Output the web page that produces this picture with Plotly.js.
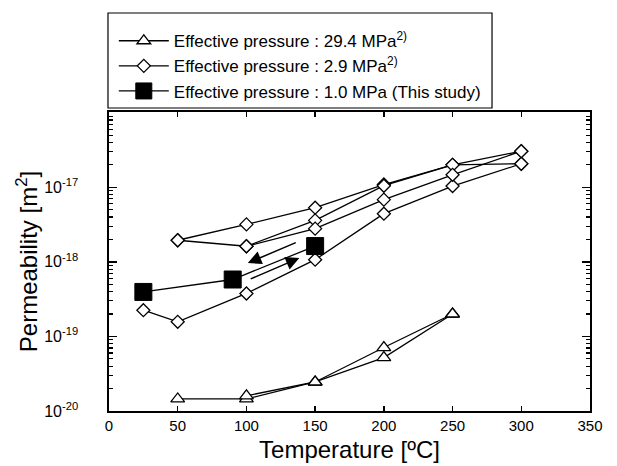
<!DOCTYPE html>
<html>
<head>
<meta charset="utf-8">
<script src="https://cdn.plot.ly/plotly-3.0.1.min.js"></script>
<style>html,body{margin:0;padding:0;background:#fff;}#chart{width:617px;height:466px;}</style>
</head>
<body>
<div id="chart"></div>
<script>
// 29.4 MPa (triangles) – heating and cooling paths
const tri1T = [50, 100, 150, 200, 250];
const tri1K = [1.45e-20, 1.45e-20, 2.45e-20, 5.2e-20, 2.0e-19];
const tri2T = [250, 200, 150, 100];
const tri2K = [2.0e-19, 7.1e-20, 2.45e-20, 1.6e-20];

// 2.9 MPa (diamonds) – several cycles
const dia1T = [25, 50, 100, 150, 200, 250, 300];
const dia1K = [2.25e-19, 1.57e-19, 3.77e-19, 1.07e-18, 4.43e-18, 1.04e-17, 2.07e-17];
const dia2T = [50, 100, 150, 200, 250, 300];
const dia2K = [1.95e-18, 3.18e-18, 5.33e-18, 1.09e-17, 2.0e-17, 3.05e-17];
const dia3T = [50, 100, 150, 200, 250, 300];
const dia3K = [1.95e-18, 1.62e-18, 3.6e-18, 1.05e-17, 2.0e-17, 2.07e-17];
const dia4T = [100, 150, 200, 250, 300];
const dia4K = [1.62e-18, 2.79e-18, 6.83e-18, 1.47e-17, 3.05e-17];

// 1.0 MPa (squares, this study)
const sqT = [25, 90, 150];
const sqK = [3.95e-19, 5.8e-19, 1.63e-18];

const xTicks = [0, 50, 100, 150, 200, 250, 300, 350];
const yTickVals = [1e-20, 1e-19, 1e-18, 1e-17, 1e-16];
const yTickText = ['10<sup>-20</sup>', '10<sup>-19</sup>', '10<sup>-18</sup>', '10<sup>-17</sup>', ''];
const yDecades = [1e-20, 1e-19, 1e-18, 1e-17];
const yMinorMult = [2, 3, 4, 5, 6, 7, 8, 9];

const nameTri = 'Effective pressure : 29.4 MPa<sup>2)</sup>';
const nameDia = 'Effective pressure : 2.9 MPa<sup>2)</sup>';
const nameSq = 'Effective pressure : 1.0 MPa (This study)';

const yMinorVals = [];
yDecades.forEach(d => yMinorMult.forEach(m => yMinorVals.push(d * m)));

const lineStyle = {color: '#000', width: 1.3};
const triMarker = {symbol: 'triangle-up', size: 12, color: '#fff', line: {color: '#000', width: 1.3}};
const diaMarker = {symbol: 'diamond', size: 10, color: '#fff', line: {color: '#000', width: 1.3}};
const sqMarker = {symbol: 'square', size: 17, color: '#000', line: {color: '#000', width: 1}};

const traces = [
  {x: tri1T, y: tri1K, mode: 'lines+markers', name: nameTri, line: lineStyle, marker: triMarker, legendgroup: 'a'},
  {x: tri2T, y: tri2K, mode: 'lines+markers', name: nameTri, line: lineStyle, marker: triMarker, legendgroup: 'a', showlegend: false},
  {x: dia1T, y: dia1K, mode: 'lines+markers', name: nameDia, line: lineStyle, marker: diaMarker, legendgroup: 'b'},
  {x: dia2T, y: dia2K, mode: 'lines+markers', name: nameDia, line: lineStyle, marker: diaMarker, legendgroup: 'b', showlegend: false},
  {x: dia3T, y: dia3K, mode: 'lines+markers', name: nameDia, line: lineStyle, marker: diaMarker, legendgroup: 'b', showlegend: false},
  {x: dia4T, y: dia4K, mode: 'lines+markers', name: nameDia, line: lineStyle, marker: diaMarker, legendgroup: 'b', showlegend: false},
  {x: sqT, y: sqK, mode: 'lines+markers', name: nameSq, line: lineStyle, marker: sqMarker, legendgroup: 'c'},
  // invisible carrier trace for the minor-tick axis
  {x: [0], y: [1e-20], yaxis: 'y2', mode: 'markers', marker: {opacity: 0}, showlegend: false, hoverinfo: 'skip'}
];

const font = {family: 'Liberation Sans, Arial, sans-serif', color: '#000'};

const layout = {
  width: 617, height: 466,
  margin: {l: 109, r: 27, t: 112, b: 55},
  paper_bgcolor: '#fff', plot_bgcolor: '#fff',
  font: font,
  showlegend: true,
  legend: {
    x: 0.01, y: 1.297, xanchor: 'left', yanchor: 'top',
    bgcolor: 'rgba(0,0,0,0)', borderwidth: 0,
    font: {family: font.family, size: 17, color: '#000'},
    traceorder: 'normal', itemwidth: 50, tracegroupgap: 0
  },
  xaxis: {
    range: [0, 350], tickvals: xTicks, ticktext: xTicks.map(String),
    ticks: 'inside', ticklen: 5, tickwidth: 1.3, tickcolor: '#000',
    showline: true, linecolor: '#000', linewidth: 1.6, mirror: 'ticks',
    showgrid: false, zeroline: false,
    tickfont: {family: font.family, size: 15, color: '#000'},
    title: {text: 'Temperature [ºC]', font: {family: font.family, size: 24, color: '#000'}, standoff: 8},
    automargin: false
  },
  yaxis: {
    type: 'log', range: [-20, -15.99],
    tickmode: 'array', tickvals: yTickVals, ticktext: yTickText,
    ticks: 'inside', ticklen: 8, tickwidth: 1.3, tickcolor: '#000',
    showline: true, linecolor: '#000', linewidth: 1.6, mirror: 'ticks',
    showgrid: false, zeroline: false,
    tickfont: {family: font.family, size: 16, color: '#000'},
    ticklabelstandoff: 26,
    title: {text: 'Permeability [m<sup>2</sup>]', font: {family: font.family, size: 24, color: '#000'}, standoff: 0},
    automargin: false
  },
  yaxis2: {
    type: 'log', range: [-20, -15.99], overlaying: 'y', side: 'left',
    tickmode: 'array', tickvals: yMinorVals, ticktext: yMinorVals.map(() => ''),
    ticks: 'inside', ticklen: 4, tickwidth: 1.1, tickcolor: '#000',
    showline: false, mirror: 'ticks', showgrid: false, zeroline: false,
    automargin: false
  },
  shapes: [{
    type: 'rect', xref: 'paper', yref: 'paper',
    x0: -0.0021, x1: 0.7963, y0: 1.0134, y1: 1.3311,
    line: {color: '#000', width: 1.2}, fillcolor: 'rgba(0,0,0,0)'
  }],
  annotations: [
    {xref: 'x', yref: 'y', axref: 'x', ayref: 'y', x: 101, y: -18.015, ax: 137, ay: -17.734,
     showarrow: true, arrowhead: 2, arrowsize: 1.8, arrowwidth: 1.5, arrowcolor: '#000', text: ''},
    {xref: 'x', yref: 'y', axref: 'x', ayref: 'y', x: 138.5, y: -17.948, ax: 102, ay: -18.237,
     showarrow: true, arrowhead: 2, arrowsize: 1.8, arrowwidth: 1.5, arrowcolor: '#000', text: ''}
  ]
};

Plotly.newPlot('chart', traces, layout, {displayModeBar: false, staticPlot: true});
</script>
</body>
</html>
